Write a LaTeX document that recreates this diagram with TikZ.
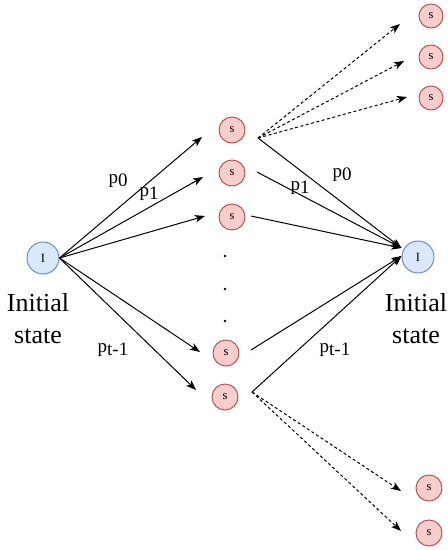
\documentclass[tikz,border=0pt]{standalone}
\usepackage{fontspec}
\setmainfont{Liberation Serif}
\usetikzlibrary{arrows.meta}
\definecolor{sfill}{HTML}{F8CECC}
\definecolor{sdraw}{HTML}{B85450}
\definecolor{ifill}{HTML}{DAE8FC}
\definecolor{idraw}{HTML}{6C8EBF}
\tikzset{
	snode/.style={circle, draw=sdraw, fill=sfill, line width=1pt, minimum size=26pt, inner sep=0pt, font=\fontsize{12.5}{14}\selectfont},
	inode/.style={circle, draw=idraw, fill=ifill, line width=1pt, minimum size=32pt, inner sep=0pt, font=\fontsize{12.5}{14}\selectfont},
	statelab/.style={font=\fontsize{26}{32}\selectfont, align=center, inner sep=0pt},
	plab/.style={font=\fontsize{19}{21}\selectfont, inner sep=0pt},
	arr/.style={-{Stealth[length=10pt,width=7.5pt,inset=2.5pt]}, line width=1pt},
	darr/.style={arr, dash pattern=on 3pt off 2.5pt}
}
\newcommand{\psub}[1]{p\raisebox{-3pt}{#1}}
\begin{document}
\begin{tikzpicture}[x=1pt, y=-1pt, line join=round]
	\useasboundingbox (0,0) rectangle (448,550);
	\node[inode] (I) at (43,258) {I};
	\node[inode] (J) at (418,257) {I};
	\node[statelab, anchor=north] (Ilab) at (38,293) {Initial\\state};
	\node[statelab, anchor=north] (Jlab) at (416,293) {Initial\\state};
	
	\foreach \n/\x/\y in {1/232/130, 2/232/173, 3/232/217, 4/226/353, 5/225/397}
		\node[snode] (m\n) at (\x,\y) {s};
	\foreach \n/\y in {1/16, 2/57, 3/98}
		\node[snode, minimum size=24pt] (u\n) at (431,\y) {s};
	\foreach \n/\y in {1/488, 2/533}
		\node[snode] (d\n) at (429,\y) {s};
	\foreach \y in {256, 289, 321}
		\fill (225,\y) circle (1.3pt);
	
	% loose ends of the arrows
	\path (202,137) coordinate (t1) (203,177) coordinate (t2) (205,216) coordinate (t3)
		(200,352) coordinate (t4) (196,390) coordinate (t5)
		(258,138) coordinate (o1) (257,172) coordinate (o2) (251,216) coordinate (o3)
		(251,350) coordinate (o4) (252,392) coordinate (o5)
		(400,24) coordinate (e1) (404,61) coordinate (e2) (407,97) coordinate (e3)
		(401,491) coordinate (f1) (401,531) coordinate (f2);
	
	\foreach \n in {1,...,5}
		\draw[arr] (I.east) -- (t\n);
	\foreach \n in {1,2,3}
		\draw[arr] (o\n) -- ([yshift=9pt]J.west);
	\foreach \n in {4,5}
		\draw[arr] (o\n) -- ([yshift=1pt]J.west);
	\foreach \n in {1,2,3}
		\draw[darr] (o1) -- (e\n);
	\foreach \n in {1,2}
		\draw[darr] (o5) -- (f\n);
	
	\node[plab] (lp0) at (118,181) {\psub{0}};
	\node[plab] (lp1) at (149,194) {\psub{1}};
	\node[plab] (lpt) at (113,350) {\psub{t-1}};
	\node[plab] (rp0) at (342,175) {\psub{0}};
	\node[plab] (rp1) at (300,188) {\psub{1}};
	\node[plab] (rpt) at (335,350) {\psub{t-1}};
\end{tikzpicture}
\end{document}
